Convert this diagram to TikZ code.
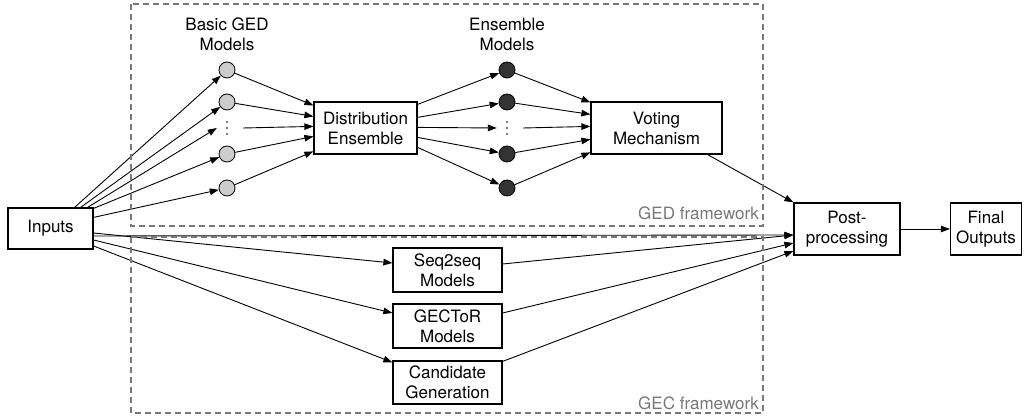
\documentclass[tikz,border=0pt]{standalone}
\usepackage{fontspec}
\setmainfont{TeX Gyre Heros}
\usetikzlibrary{calc,arrows.meta}
\definecolor{frame}{RGB}{120,120,120}
\definecolor{lightc}{RGB}{204,204,204}
\definecolor{darkc}{RGB}{51,51,51}
\tikzset{
  box/.style={draw=black, line width=1.2pt, fill=white, align=center, inner sep=0pt, font=\fontsize{17}{20}\selectfont},
  lightdot/.style={circle, draw=black, line width=0.8pt, fill=lightc, minimum size=16pt, inner sep=0pt},
  darkdot/.style={circle, draw=black, line width=0.8pt, fill=darkc, minimum size=16pt, inner sep=0pt},
  dotsnode/.style={inner sep=0pt, minimum width=20pt, minimum height=16pt},
  conn/.style={draw=black, line width=0.9pt, -{Triangle[length=9pt,width=6.5pt]}},
  frameline/.style={draw=frame, line width=1.3pt, dash pattern=on 6pt off 4pt},
  framelabel/.style={text=frame, inner sep=0pt, font=\fontsize{17}{20}\selectfont},
  grouplabel/.style={align=center, inner sep=0pt, font=\fontsize{17}{20}\selectfont},
  vdot/.style={fill=black}
}
\begin{document}
\begin{tikzpicture}[x=1pt, y=-1pt]
\useasboundingbox (0,0) rectangle (1026,419);

% nodes
\node[box, minimum width=85pt, minimum height=41pt] (in) at (50.5,228.5) {Inputs};
\node[box, minimum width=103pt, minimum height=52pt] (de) at (365.5,128) {Distribution\\Ensemble};
\node[box, minimum width=131pt, minimum height=52pt] (vote) at (656.5,128) {Voting\\Mechanism};
\node[box, minimum width=106pt, minimum height=52pt] (post) at (847,229) {Post-\\processing};
\node[box, minimum width=71pt, minimum height=52pt] (final) at (986,229) {Final\\Outputs};
\node[box, minimum width=109pt, minimum height=44pt] (s2s) at (447.5,270) {Seq2seq\\Models};
\node[box, minimum width=109pt, minimum height=44pt] (gec) at (447.5,326) {GECToR\\Models};
\node[box, minimum width=109pt, minimum height=43pt] (cand) at (447.5,382.5) {Candidate\\Generation};

\node[grouplabel] (lblb) at (227,34) {Basic GED\\Models};
\node[grouplabel] (lble) at (507,34) {Ensemble\\Models};

\node[lightdot] (b1) at (227,70) {};
\node[lightdot] (b2) at (227,102) {};
\node[dotsnode] (bd) at (227,128) {};
\node[lightdot] (b4) at (227,154) {};
\node[lightdot] (b5) at (227,188) {};

\node[darkdot] (e1) at (507,70) {};
\node[darkdot] (e2) at (507,102) {};
\node[dotsnode] (ed) at (507,128) {};
\node[darkdot] (e4) at (507,154) {};
\node[darkdot] (e5) at (507,188) {};

% vertical ellipses
\foreach \yy in {122,128,134} {
  \fill[vdot] ($(bd.center)+(0,\yy-128)$) circle (0.9);
  \fill[vdot] ($(ed.center)+(0,\yy-128)$) circle (0.9);
}

% inputs to basic models
\draw[conn] ($(in.north east)+(-19,0)$) -- (b1);
\draw[conn] ($(in.north east)+(-13,0)$) -- (b2);
\draw[conn] ($(in.north east)+(-6,0)$) -- (bd.west);
\draw[conn] ($(in.north east)+(0,1)$) -- (b4);
\draw[conn] ($(in.north east)+(0,10)$) -- (b5);

% basic models to distribution ensemble
\draw[conn] (b1) -- ($(de.north west)+(0,4)$);
\draw[conn] (b2) -- ($(de.north west)+(0,15)$);
\draw[conn] ([xshift=6pt]bd.east) -- ($(de.north west)+(0,25)$);
\draw[conn] (b4) -- ($(de.north west)+(0,35)$);
\draw[conn] (b5) -- ($(de.north west)+(0,50)$);

% distribution ensemble to ensemble models
\draw[conn] ($(de.north east)+(0,3)$) -- (e1);
\draw[conn] ($(de.north east)+(0,16)$) -- (e2);
\draw[conn] ($(de.north east)+(0,26)$) -- (ed.west);
\draw[conn] ($(de.north east)+(0,36)$) -- (e4);
\draw[conn] ($(de.north east)+(0,46)$) -- (e5);

% ensemble models to voting
\draw[conn] (e1) -- ($(vote.north west)+(0,1)$);
\draw[conn] (e2) -- ($(vote.north west)+(0,13)$);
\draw[conn] ([xshift=6pt]ed.east) -- ($(vote.north west)+(0,25)$);
\draw[conn] (e4) -- ($(vote.north west)+(0,38)$);
\draw[conn] (e5) -- ($(vote.north west)+(0,51)$);

% voting to post-processing
\draw[conn] ($(vote.south east)+(-15,0)$) -- (post.north west);

% inputs to GEC models and post
\draw[conn] ($(in.east)+(0,7.5)$) -- ($(post.west)+(0,6)$);
\draw[conn] ($(in.east)+(0,4.5)$) -- ($(s2s.west)+(0,-7)$);
\draw[conn] ($(in.east)+(0,11.5)$) -- ($(gec.west)+(0,-13)$);
\draw[conn] ($(in.east)+(0,17.5)$) -- ($(cand.north west)+(0,2)$);

% GEC models to post
\draw[conn] ($(s2s.east)+(0,-6)$) -- ($(post.west)+(0,6)$);
\draw[conn] ($(gec.east)+(0,-13)$) -- ($(post.west)+(0,14)$);
\draw[conn] ($(cand.north east)+(0,1)$) -- ($(post.west)+(0,22)$);

% post to final
\draw[conn] (post.east) -- (final.west);

% frames
\draw[frameline] (131,4) rectangle (763,226);
\draw[frameline] (131,237) rectangle (763,413);
\node[framelabel, anchor=east] (gedl) at (759,213) {GED framework};
\node[framelabel, anchor=east] (gecl) at (759,403) {GEC framework};
\end{tikzpicture}
\end{document}
